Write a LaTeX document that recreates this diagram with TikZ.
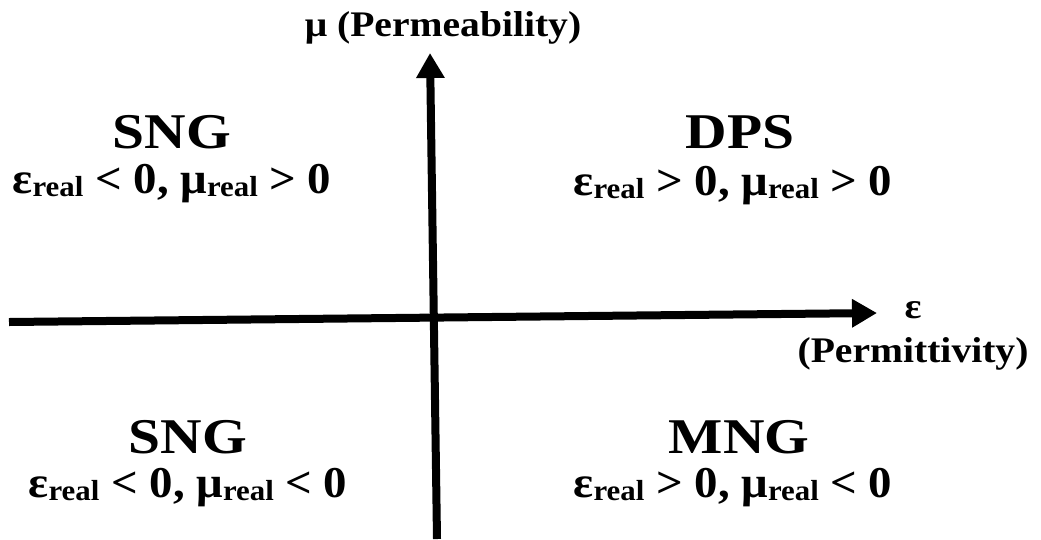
\documentclass[tikz,border=0pt]{standalone}
\usepackage{fontspec}
\setmainfont{Liberation Serif}[FakeStretch=1.15]
\newfontfamily\condfont{Liberation Serif}[FakeStretch=1.065]
\newfontfamily\labfont{Liberation Serif}[FakeStretch=1.1]
\usetikzlibrary{arrows.meta}
\newcommand{\rsub}[1]{{\fontsize{29}{29}\selectfont\raisebox{-3pt}{#1}}}
\begin{document}
\begin{tikzpicture}[x=1pt,y=-1pt,
  axis/.style={line width=8pt,-{Triangle[length=25pt,width=27pt]}},
  big/.style={font=\fontsize{50}{50}\selectfont\bfseries, anchor=base, inner sep=0pt},
  cond/.style={font=\condfont\fontsize{44}{44}\selectfont\bfseries, anchor=base, inner sep=0pt},
  lab/.style={font=\labfont\fontsize{36}{36}\selectfont\bfseries, anchor=base, inner sep=0pt}]
\useasboundingbox (0,0) rectangle (1041,539);
\coordinate (xl) at (9,322);
\coordinate (xr) at (877,313);
\coordinate (yb) at (437,539);
\coordinate (yt) at (430,53);
\draw[axis] (xl) -- (xr);
\draw[axis] (yb) -- (yt);
\node[lab] (mu) at (443,36) {μ (Permeability)};
\node[lab] (eps) at (913,318) {ε};
\node[lab] (perm) at (913,362) {(Permittivity)};
\node[big] (q2) at (172,148) {SNG};
\node[cond] (c2) at (172,193) {ε\rsub{real} < 0, μ\rsub{real} > 0};
\node[big] (q1) at (740,148) {DPS};
\node[cond] (c1) at (733,195) {ε\rsub{real} > 0, μ\rsub{real} > 0};
\node[big] (q3) at (188,453) {SNG};
\node[cond] (c3) at (188,497) {ε\rsub{real} < 0, μ\rsub{real} < 0};
\node[big] (q4) at (739,453) {MNG};
\node[cond] (c4) at (733,497) {ε\rsub{real} > 0, μ\rsub{real} < 0};
\end{tikzpicture}
\end{document}
